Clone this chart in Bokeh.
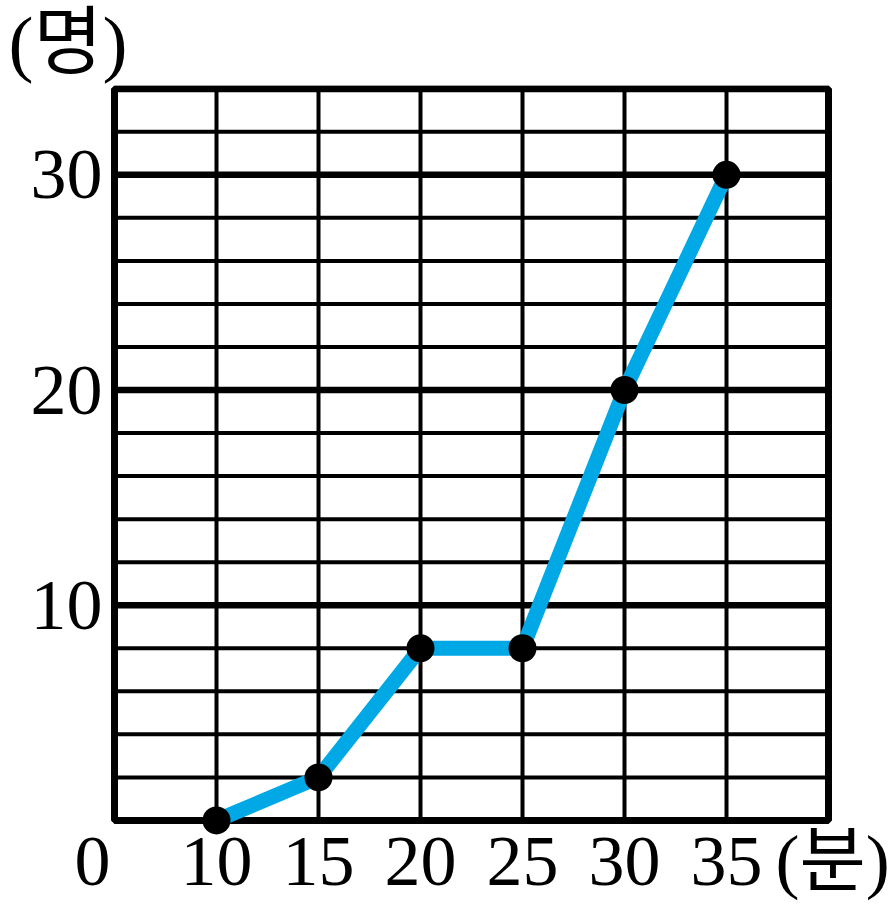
from bokeh.plotting import figure
from bokeh.models import Range1d, FixedTicker, BoxAnnotation, Title
from bokeh.embed import file_html
from bokeh.resources import INLINE

# data
minutes = [10, 15, 20, 25, 30, 35]
people = [0, 2, 8, 8, 20, 30]

x_ticks = [10, 15, 20, 25, 30, 35]
y_major_ticks = [10, 20, 30]
y_minor_ticks = [2, 4, 6, 8, 12, 14, 16, 18, 22, 24, 26, 28, 32]
x_min, x_max = 5, 40
y_min, y_max = 0, 34

# extra x-axis labels: origin "0" and unit "(분)"
origin_pos, unit_pos = 3.92, 40.2
x_label_ticks = [origin_pos] + x_ticks + [unit_pos]
x_label_overrides = {origin_pos: "0", unit_pos: "(분)"}
y_unit_text = "(명)"

SERIF = "Liberation Serif"
KR = "Liberation Serif, Noto Sans CJK KR"
BLUE = "#00A8E6"

p = figure(width=890, height=912, output_backend="svg", toolbar_location=None,
           x_range=Range1d(3.8235, 40.245),
           y_range=Range1d(y_min - 0.7, y_max + 0.15),
           min_border_left=90, min_border_right=57, min_border_top=84, min_border_bottom=77)
p.outline_line_color = None
p.xgrid.visible = False
p.ygrid.visible = False

title = Title(text=y_unit_text, align="left", offset=-82, standoff=0,
              vertical_align="top",
              text_font=KR, text_font_size="75px", text_font_style="normal",
              text_color="black")
p.add_layout(title, "above")

# grid lines limited to the chart box
p.segment(x0=x_ticks, x1=x_ticks, y0=[y_min] * len(x_ticks), y1=[y_max] * len(x_ticks),
          line_color="black", line_width=4, level="underlay")
p.segment(x0=[x_min] * len(y_minor_ticks), x1=[x_max] * len(y_minor_ticks),
          y0=y_minor_ticks, y1=y_minor_ticks,
          line_color="black", line_width=4, level="underlay")
p.segment(x0=[x_min] * len(y_major_ticks), x1=[x_max] * len(y_major_ticks),
          y0=y_major_ticks, y1=y_major_ticks,
          line_color="black", line_width=6.5, level="underlay")
p.add_layout(BoxAnnotation(left=x_min, right=x_max, bottom=y_min, top=y_max,
                           fill_color=None, line_color="black", line_alpha=1.0,
                           line_width=7, level="underlay"))

# axes
for ax in (p.xaxis[0], p.yaxis[0]):
    ax.axis_line_color = None
    ax.major_tick_line_color = None
    ax.minor_tick_line_color = None
    ax.major_tick_out = 0
    ax.major_tick_in = 0
    ax.major_label_text_font_size = "72px"
    ax.major_label_text_color = "black"
p.xaxis.major_label_text_font = KR
p.yaxis.major_label_text_font = SERIF
p.xaxis.ticker = FixedTicker(ticks=x_label_ticks)
p.xaxis.major_label_overrides = x_label_overrides
p.yaxis.ticker = FixedTicker(ticks=y_major_ticks)
p.xaxis.major_label_standoff = -15
p.yaxis.major_label_standoff = -12

# series
p.line(minutes, people, line_color=BLUE, line_width=15, line_join="round")
p.scatter(minutes, people, size=28, fill_color="black", line_color=None)

open("out.html", "w").write(file_html(p, INLINE))
